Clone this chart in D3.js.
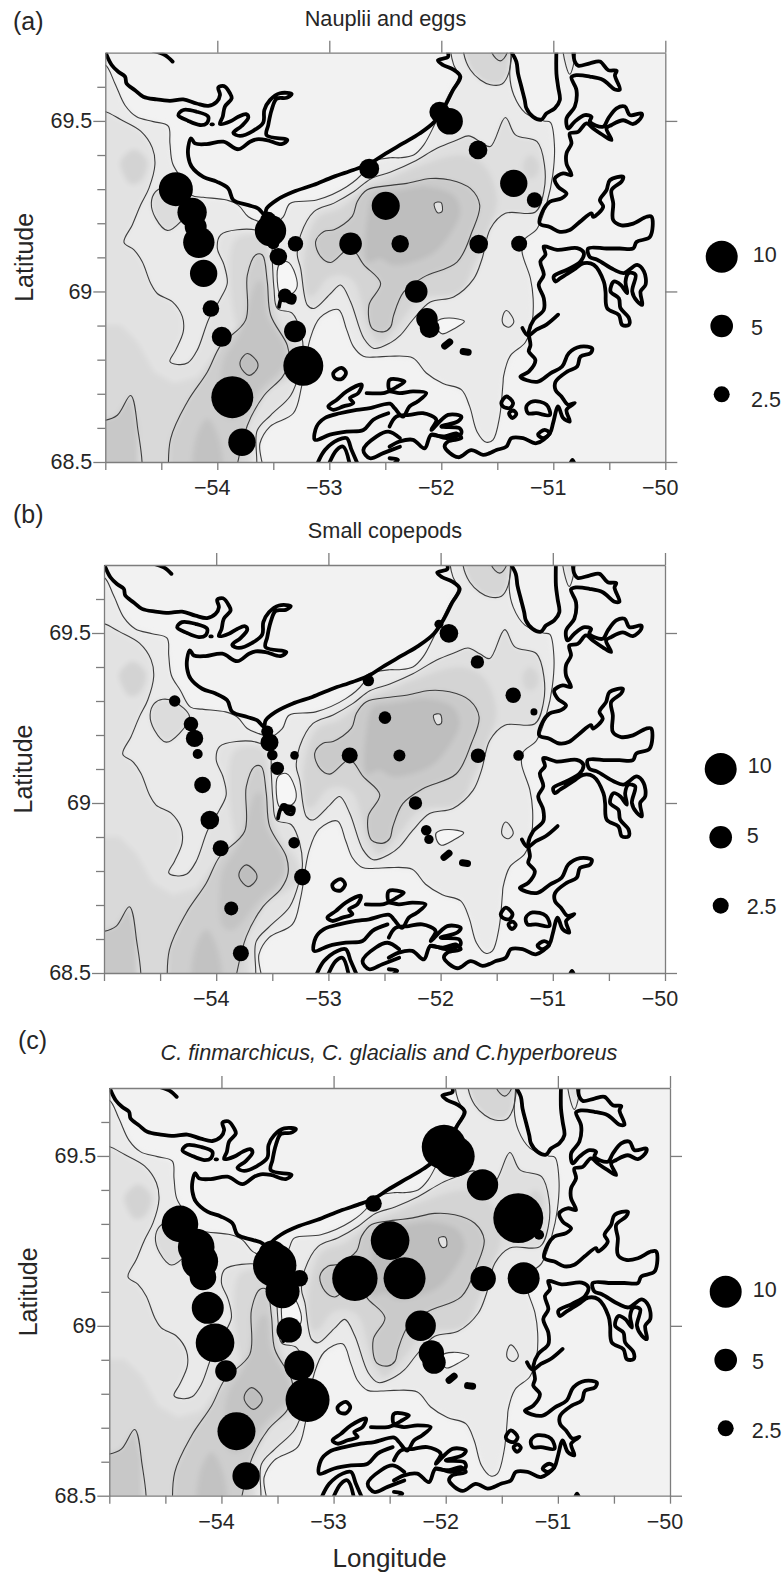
<!DOCTYPE html>
<html lang="en">
<head>
<meta charset="UTF-8">
<title>Disko Bay copepods</title>
<script src="https://d3js.org/d3.v7.min.js"></script>
<style>
    body { margin: 0; background: #fff; }
    text { font-family: "Liberation Sans", Arial, sans-serif; fill: #262626; }
    .axis path, .axis line { stroke: #7d7d7d; stroke-width: 1.3px; }
    .axis text { font-size: 21.5px; }
</style>
</head>
<body>
<svg id="chart" width="783" height="1575"></svg>
<script>
// stations, lon / lat
const stationLon = [-54.37,-54.225,-54.193,-54.165,-54.122,-54.057,-53.96,-53.866,-53.78,-53.232,-53.306,-53.396,-53.345,-53.455,-53.545,-53.525,-53.5,-53.302,-52.81,-52.496,-52.367,-52.644,-52.015,-51.926,-51.672,-51.353,-51.168,-51.666,-51.305,-52.224,-52.128,-52.104];
const stationLat = [69.3,69.232,69.19,69.144,69.053,68.95,68.867,68.69,68.558,68.782,68.883,68.988,68.98,69.102,69.21,69.178,69.141,69.14,69.14,69.251,69.14,69.36,69.526,69.499,69.415,69.317,69.268,69.139,69.14,69.0,68.92,68.893];
// abundance at each station
const naupliiEggs = [11.3,8.4,4.7,9.6,7.3,2.7,3.9,17.2,7.3,15.6,4.7,1.9,1.0,3.0,2.5,9.6,1.4,2.3,5.0,7.7,3.0,3.9,4.1,6.9,3.4,7.3,2.3,3.4,2.5,5.0,4.5,3.9];
const smallCopepods = [1.27,2.08,2.96,0.98,2.69,3.38,2.5,1.91,2.5,2.69,1.27,0.63,0.35,1.75,1.41,3.16,1.1,0.72,2.5,1.55,1.41,1.27,0.79,3.38,1.75,2.32,0.48,2.08,1.1,1.75,1.1,0.86];
const calanus = [13.1,13.1,13.1,6.9,10,14.6,4.5,14.1,7.3,18.9,8.8,6.3,1,11.3,7.7,18.4,2.5,2.7,20.1,14.6,17.2,2.7,19.4,16.7,9.6,24.4,1,6.3,10,9.1,6.3,5.3];

const legendValues = [10, 5, 2.5];
const lonTicks = [-55,-54.5,-54,-53.5,-53,-52.5,-52,-51.5,-51,-50.5,-50];
const lonTopTicks = [-54,-53,-52,-51,-50];
const latTicks = [68.5,68.6,68.7,68.8,68.9,69,69.1,69.2,69.3,69.4,69.5,69.6];
const latRightTicks = [68.5,69,69.5];
const lonLabels = [-54,-53,-52,-51,-50];

// coastline traces, lon / lat
const coastNorth = [[-54.994,69.698],[-54.943,69.664],[-54.884,69.644],[-54.824,69.63],[-54.81,69.61],[-54.735,69.59],[-54.661,69.571],[-54.542,69.563],[-54.423,69.559],[-54.304,69.563],[-54.185,69.551],[-54.08,69.544],[-54.006,69.556],[-53.976,69.576],[-53.991,69.598],[-53.94,69.602],[-53.887,69.581],[-53.872,69.566],[-53.932,69.542],[-53.952,69.512],[-53.976,69.491],[-53.887,69.498],[-53.813,69.512],[-53.744,69.52],[-53.723,69.51],[-53.783,69.485],[-53.857,69.465],[-53.798,69.456],[-53.679,69.471],[-53.59,69.495],[-53.58,69.532],[-53.53,69.561],[-53.44,69.581],[-53.336,69.579],[-53.381,69.568],[-53.47,69.565],[-53.515,69.532],[-53.545,69.488],[-53.56,69.458],[-53.375,69.444],[-53.426,69.432],[-53.56,69.444],[-53.649,69.446],[-53.708,69.439],[-53.813,69.417],[-53.946,69.439],[-54.095,69.432],[-54.199,69.434],[-54.235,69.449],[-54.259,69.424],[-54.259,69.395],[-54.229,69.366],[-54.125,69.336],[-54.006,69.322],[-53.902,69.302],[-53.857,69.268],[-53.723,69.253],[-53.634,69.243],[-53.574,69.224],[-53.56,69.243],[-53.47,69.268],[-53.321,69.292],[-53.143,69.312],[-52.964,69.336],[-52.786,69.356],[-52.637,69.375],[-52.518,69.4],[-52.343,69.434],[-52.194,69.463],[-52.06,69.498],[-51.97,69.542],[-51.896,69.59],[-51.83,69.63],[-51.896,69.651],[-51.985,69.664],[-52.03,69.678],[-51.94,69.688],[-51.95,69.71]];
const coastHook = [[-54.571,69.705],[-54.467,69.693],[-54.399,69.674]];
const coastIslandNW = [[-54.348,69.517],[-54.304,69.532],[-54.185,69.527],[-54.08,69.512],[-54.095,69.493],[-54.155,69.488],[-54.259,69.5]];
const coastDot = [[-54.052,69.49],[-54.04,69.49]];
const coastInlet = [[-51.389,69.71],[-51.33,69.674],[-51.315,69.639],[-51.285,69.6],[-51.255,69.561],[-51.24,69.537],[-51.18,69.512],[-51.106,69.504],[-51.061,69.522],[-50.987,69.537],[-50.942,69.561],[-50.957,69.6],[-50.972,69.639],[-50.972,69.71]];
const coastEast = [[-50.823,69.71],[-50.808,69.674],[-50.778,69.662],[-50.674,69.669],[-50.584,69.674],[-50.51,69.649],[-50.435,69.647],[-50.45,69.634],[-50.406,69.592],[-50.45,69.592],[-50.555,69.62],[-50.674,69.63],[-50.793,69.634],[-50.838,69.628],[-50.793,69.59],[-50.808,69.542],[-50.882,69.507],[-50.868,69.478],[-50.808,69.498],[-50.719,69.517],[-50.659,69.512],[-50.674,69.498],[-50.555,69.483],[-50.51,69.507],[-50.435,69.537],[-50.361,69.542],[-50.316,69.517],[-50.212,69.522],[-50.212,69.512],[-50.286,69.491],[-50.376,69.502],[-50.48,69.488],[-50.525,69.478],[-50.48,69.444],[-50.555,69.458],[-50.644,69.478],[-50.704,69.493],[-50.778,69.468],[-50.853,69.463],[-50.838,69.434],[-50.882,69.405],[-50.882,69.375],[-50.838,69.341],[-50.912,69.346],[-50.987,69.331],[-50.957,69.307],[-50.882,69.287],[-50.927,69.273],[-51.031,69.263],[-51.091,69.238],[-51.121,69.199],[-51.031,69.189],[-50.942,69.175],[-50.853,69.18],[-50.763,69.204],[-50.659,69.229],[-50.644,69.219],[-50.555,69.248],[-50.584,69.268],[-50.525,69.297],[-50.495,69.326],[-50.376,69.336],[-50.391,69.322],[-50.48,69.297],[-50.465,69.258],[-50.465,69.209],[-50.391,69.194],[-50.286,69.199],[-50.167,69.219],[-50.123,69.219],[-50.137,69.16],[-50.257,69.145],[-50.286,69.126],[-50.406,69.126],[-50.525,69.126],[-50.689,69.126],[-50.674,69.101],[-50.608,69.093],[-50.459,69.064],[-50.37,69.054],[-50.251,69.078],[-50.191,69.059],[-50.176,69.02],[-50.221,69.0],[-50.206,68.961],[-50.251,68.971],[-50.295,69.0],[-50.266,69.049],[-50.325,69.054],[-50.355,69.029],[-50.34,68.995],[-50.4,69.02],[-50.459,69.029],[-50.489,69.0],[-50.415,68.98],[-50.4,68.951],[-50.325,68.922],[-50.325,68.902],[-50.385,68.902],[-50.415,68.931],[-50.519,68.951],[-50.534,69.0],[-50.549,69.029],[-50.638,69.078],[-50.728,69.083],[-50.817,69.064],[-50.936,69.039],[-50.981,69.029],[-50.996,69.044],[-50.877,69.064],[-50.757,69.088],[-50.728,69.113],[-50.787,69.127],[-50.966,69.122],[-51.085,69.132],[-51.07,69.108],[-51.115,69.088],[-51.085,69.049],[-51.13,69.02],[-51.085,68.98],[-51.085,68.946],[-51.175,68.917],[-51.219,68.882],[-51.204,68.843],[-51.219,68.824],[-51.16,68.799],[-51.219,68.765],[-51.294,68.75],[-51.145,68.735],[-51.026,68.76],[-50.921,68.78],[-50.862,68.819],[-50.757,68.838],[-50.653,68.833],[-50.668,68.819],[-50.757,68.809],[-50.787,68.78],[-50.877,68.765],[-50.98,68.735],[-50.98,68.711],[-50.927,68.692],[-50.868,68.668],[-50.808,68.673],[-50.882,68.653],[-50.853,68.619],[-50.912,68.629],[-50.957,68.663],[-51.002,68.614],[-51.031,68.584],[-51.151,68.555],[-51.27,68.57],[-51.374,68.57],[-51.419,68.545],[-51.508,68.535],[-51.568,68.526],[-51.627,68.521],[-51.732,68.535],[-51.851,68.514],[-51.97,68.545],[-51.94,68.56],[-51.821,68.57],[-51.866,68.584],[-51.97,68.575],[-52.089,68.58]];
const coastSpike = [[-50.957,68.932],[-51.061,68.903],[-51.151,68.888],[-51.225,68.871],[-51.276,68.893]];
const coastSouthA = [[-52.462,68.604],[-52.402,68.633],[-52.283,68.638],[-52.164,68.643],[-52.045,68.624],[-52.089,68.594],[-51.94,68.638],[-51.821,68.633],[-51.851,68.619],[-52.0,68.604],[-51.836,68.599],[-51.821,68.584],[-51.955,68.57],[-52.089,68.58],[-52.149,68.54],[-52.253,68.565],[-52.373,68.56],[-52.462,68.545]];
const coastSouthB = [[-52.473,68.643],[-52.607,68.624],[-52.696,68.594],[-52.845,68.589],[-52.994,68.58],[-53.128,68.565],[-53.113,68.604],[-53.039,68.629],[-52.905,68.643],[-52.756,68.653],[-52.637,68.658],[-52.458,68.671],[-52.417,68.658],[-52.343,68.633],[-52.283,68.663],[-52.209,68.678],[-52.134,68.702],[-52.253,68.707],[-52.373,68.702],[-52.462,68.707],[-52.518,68.702],[-52.667,68.702]];
const coastLowA = [[-53.113,68.49],[-53.039,68.535],[-52.92,68.565],[-52.845,68.57],[-52.801,68.535],[-52.741,68.49]];
const coastLowB = [[-53.009,68.49],[-52.935,68.535],[-52.875,68.545],[-52.816,68.49]];
const coastLowC = [[-52.369,68.57],[-52.473,68.589],[-52.577,68.575],[-52.696,68.535],[-52.637,68.511],[-52.518,68.526],[-52.369,68.545]];
const coastLowD = [[-52.462,68.511],[-52.387,68.506],[-52.45,68.49]];
const coastTip = [[-50.853,68.49],[-50.829,68.506],[-50.805,68.49]];
const coastChannel = [[-53.449,68.955],[-53.42,68.985],[-53.375,68.991],[-53.31,68.985],[-53.321,68.968],[-53.369,68.97],[-53.39,68.98]];
const islandOne = [[-53.009,68.663],[-52.935,68.682],[-52.845,68.707],[-52.711,68.727],[-52.741,68.702],[-52.816,68.687],[-52.786,68.673],[-52.875,68.663],[-52.964,68.653]];
const islandTwo = [[-52.462,68.741],[-52.328,68.736],[-52.387,68.722],[-52.462,68.712]];
const islandThree = [[-52.964,68.761],[-52.89,68.776],[-52.851,68.761],[-52.89,68.743],[-52.95,68.746]];
const islandFour = [[-51.464,68.673],[-51.419,68.692],[-51.359,68.673],[-51.389,68.658],[-51.449,68.663]];
const islandFive = [[-51.395,68.643],[-51.359,68.651],[-51.33,68.641],[-51.365,68.629]];
const islandSix = [[-51.24,68.663],[-51.18,68.678],[-51.061,68.668],[-51.031,68.638],[-51.151,68.643],[-51.225,68.643]];
const islandSeven = [[-51.136,68.58],[-51.077,68.594],[-51.031,68.584],[-51.09,68.57]];
const islandEight = [[-51.97,68.84],[-51.925,68.852]];
const islandNine = [[-51.805,68.824],[-51.76,68.822]];

// contour lines and shading patches, lon / lat
const contourA = [[-55.1,69.664],[-55,69.664],[-54.914,69.61],[-54.824,69.546],[-54.72,69.512],[-54.571,69.498],[-54.438,69.485],[-54.423,69.434],[-54.399,69.375],[-54.319,69.331],[-54.229,69.282],[-54.125,69.276],[-53.917,69.268],[-53.813,69.253],[-53.723,69.219],[-53.619,69.204],[-53.52,69.195],[-53.411,69.219],[-53.351,69.258],[-53.113,69.268],[-52.845,69.307],[-52.69,69.352],[-52.66,69.376],[-52.456,69.392],[-52.367,69.392],[-52.247,69.4],[-52.158,69.429],[-52.054,69.493],[-51.934,69.576],[-51.845,69.63],[-51.89,69.665],[-51.914,69.699],[-51.914,69.76],[-51.368,69.76],[-51.368,69.699],[-51.389,69.635],[-51.353,69.576],[-51.249,69.523],[-51.085,69.5],[-51.026,69.496],[-50.99,69.429],[-51.005,69.341],[-51.055,69.263],[-51.145,69.184],[-51.264,69.15],[-51.279,69.116],[-51.204,69.038],[-51.18,68.979],[-51.189,68.91],[-51.249,68.851],[-51.383,68.812],[-51.443,68.753],[-51.449,68.731],[-51.479,68.633],[-51.538,68.565],[-51.598,68.558],[-51.681,68.589],[-51.747,68.663],[-51.821,68.712],[-51.985,68.73],[-52.134,68.761],[-52.253,68.805],[-52.462,68.81],[-52.577,68.808],[-52.696,68.81],[-52.786,68.839],[-52.845,68.888],[-52.92,68.947],[-53.083,68.923],[-53.173,68.859],[-53.247,68.722],[-53.321,68.643],[-53.53,68.604],[-53.619,68.555],[-53.619,68.44],[-55.1,68.44]];
const contourB = [[-55.1,69.528],[-55.006,69.528],[-54.863,69.504],[-54.684,69.47],[-54.58,69.421],[-54.557,69.372],[-54.61,69.303],[-54.684,69.254],[-54.759,69.195],[-54.833,69.144],[-54.744,69.122],[-54.67,69.087],[-54.595,69.024],[-54.536,68.994],[-54.402,68.97],[-54.312,68.926],[-54.304,68.882],[-54.372,68.828],[-54.423,68.795],[-54.357,68.786],[-54.262,68.791],[-54.179,68.828],[-54.074,68.921],[-53.97,68.98],[-53.911,69.024],[-53.94,69.078],[-54,69.127],[-53.97,69.166],[-53.821,69.181],[-53.613,69.176],[-53.524,69.151],[-53.509,69.087],[-53.494,69.009],[-53.464,68.95],[-53.33,68.936],[-53.256,68.882],[-53.232,68.813],[-53.256,68.774],[-53.345,68.695],[-53.524,68.637],[-53.643,68.593],[-53.702,68.44],[-55.1,68.44]];
const contourC = [[-54.432,68.44],[-54.417,68.568],[-54.268,68.676],[-54.089,68.764],[-53.97,68.842],[-53.747,68.916],[-53.732,69.048],[-53.658,69.107],[-53.598,69.107],[-53.554,69.029],[-53.524,68.931],[-53.375,68.842],[-53.36,68.793],[-53.42,68.749],[-53.583,68.695],[-53.732,68.607],[-53.851,68.44]];
const contourCorner = [[-55.1,68.622],[-55.006,68.622],[-54.893,68.637],[-54.774,68.695],[-54.714,68.607],[-54.708,68.44],[-55.1,68.44]];
const contourD = [[-53.286,69.107],[-53.256,69.166],[-53.137,69.234],[-52.958,69.259],[-52.78,69.293],[-52.631,69.33],[-52.452,69.35],[-52.247,69.38],[-52.039,69.42],[-51.86,69.444],[-51.756,69.456],[-51.651,69.439],[-51.562,69.425],[-51.428,69.51],[-51.338,69.459],[-51.145,69.439],[-51.079,69.371],[-51.085,69.292],[-51.16,69.233],[-51.428,69.229],[-51.562,69.184],[-51.636,69.096],[-51.711,69.037],[-51.89,68.984],[-52.098,68.969],[-52.247,68.92],[-52.367,68.871],[-52.452,68.85],[-52.601,68.833],[-52.691,68.862],[-52.81,68.97],[-52.899,69.019],[-52.988,68.994],[-53.137,68.95],[-53.196,68.96],[-53.256,69.068]];
const contourE = [[-52.452,69.311],[-52.661,69.298],[-52.75,69.264],[-52.795,69.22],[-52.958,69.181],[-53.048,69.176],[-53.122,69.146],[-53.077,69.102],[-52.988,69.085],[-52.81,69.127],[-52.691,69.078],[-52.542,69.024],[-52.646,68.96],[-52.616,68.891],[-52.512,68.882],[-52.452,68.896],[-52.426,68.93],[-52.337,68.998],[-52.158,69.042],[-51.86,69.086],[-51.726,69.175],[-51.657,69.253],[-51.741,69.302],[-51.92,69.327],[-52.098,69.331],[-52.307,69.317]];
const contourPocket = [[-54.476,69.305],[-54.551,69.293],[-54.589,69.259],[-54.551,69.215],[-54.446,69.179],[-54.327,69.205],[-54.238,69.254],[-54.372,69.298]];
const contourTop = [[-51.8,69.76],[-51.8,69.699],[-51.741,69.65],[-51.651,69.62],[-51.562,69.606],[-51.458,69.608],[-51.398,69.64],[-51.377,69.699],[-51.377,69.76]];
const contourTopInner = [[-51.547,69.76],[-51.547,69.699],[-51.473,69.676],[-51.413,69.699],[-51.413,69.76]];
const contourNE = [[-50.912,69.76],[-50.912,69.7],[-50.853,69.637],[-50.8,69.7],[-50.8,69.76]];
const loopSmallC = [[-53.792,68.798],[-53.732,68.818],[-53.643,68.793],[-53.643,68.774],[-53.717,68.754],[-53.792,68.779]];
const loopChannel = [[-53.449,69.078],[-53.375,69.087],[-53.301,69.048],[-53.292,69.009],[-53.36,68.989],[-53.435,68.989],[-53.464,69.029]];
const loopCentre = [[-52.063,69.258],[-52.003,69.261],[-51.994,69.234],[-52.033,69.231]];
const loopBank = [[-52.039,68.912],[-51.934,68.922],[-51.794,68.912],[-51.89,68.89],[-51.994,68.876],[-52.039,68.895]];
const loopOval = [[-51.419,68.944],[-51.383,68.934],[-51.353,68.91],[-51.398,68.895],[-51.449,68.905],[-51.449,68.93]];
const patchSouth = [[-55.1,68.901],[-54.863,68.901],[-54.714,68.852],[-54.565,68.764],[-54.387,68.73],[-54.179,68.749],[-54.03,68.813],[-53.792,68.882],[-53.7,68.44],[-55.1,68.44]];
const patchChannel = [[-53.851,68.931],[-53.851,69.146],[-53.732,69.166],[-53.583,69.156],[-53.524,69.029],[-53.435,68.901],[-53.286,68.833],[-53.256,68.774],[-53.6,68.72]];
const patchMid = [[-53.97,68.735],[-53.94,68.803],[-53.792,68.882],[-53.643,69.029],[-53.598,69.029],[-53.554,68.931],[-53.39,68.833],[-53.405,68.784],[-53.613,68.715],[-53.851,68.627],[-53.94,68.637]];
const patchBottom = [[-54.089,68.627],[-53.985,68.568],[-53.97,68.44],[-54.193,68.44],[-54.193,68.568]];
const patchWest = [[-54.863,69.381],[-54.744,69.416],[-54.625,69.381],[-54.684,69.323],[-54.774,69.315],[-54.848,69.352]];
const patchBay = [[-53.226,69.087],[-53.107,69.215],[-52.899,69.244],[-52.661,69.303],[-52.452,69.332],[-52.247,69.361],[-51.83,69.4],[-51.622,69.371],[-51.502,69.273],[-51.562,69.194],[-51.711,69.077],[-51.83,68.998],[-52.188,68.979],[-52.367,68.91],[-52.545,68.851],[-52.631,68.882],[-52.691,68.94],[-52.78,69.029],[-52.899,69.048],[-53.018,69.038],[-53.137,68.989],[-53.196,68.989]];
const patchCore = [[-52.661,69.215],[-52.601,69.283],[-52.452,69.293],[-52.367,69.297],[-52.128,69.307],[-51.89,69.282],[-51.83,69.233],[-51.949,69.155],[-52.098,69.106],[-52.426,69.077],[-52.545,69.096],[-52.661,69.087]];
const patchEast = [[-51.264,69.38],[-51.204,69.4],[-51.13,69.376],[-51.145,69.341],[-51.219,69.331],[-51.264,69.351]];

const openCoast = [coastNorth, coastHook, coastDot, coastInlet, coastEast, coastSpike, coastSouthA, coastSouthB, coastLowA, coastLowB, coastLowC, coastLowD, coastTip, coastChannel];
const closedCoast = [coastIslandNW, islandOne, islandTwo, islandThree, islandFour, islandFive, islandSix, islandSeven];
const blobCoast = [islandEight, islandNine];

const panels = [
    {tag:"(a)", tagX:13, tagY:30, title:"Nauplii and eggs", titleX:385.5, titleY:26, italic:false, values:naupliiEggs,
     left:105.3, right:665.3, top:52.7, bottom:462, legendX:721.7, legendY:[256.7,326,394.3], labelX:[752.7,751,751], labelY:[262,335,407]},
    {tag:"(b)", tagX:13, tagY:523, title:"Small copepods", titleX:385, titleY:537.5, italic:false, values:smallCopepods,
     left:104, right:665, top:565, bottom:973, legendX:720.7, legendY:[769,837.3,905.7], labelX:[747.7,746.7,746.7], labelY:[773.3,843.3,914]},
    {tag:"(c)", tagX:18, tagY:1049, title:"C. finmarchicus, C. glacialis and C.hyperboreus", titleX:389, titleY:1060, italic:true, values:calanus,
     left:109.3, right:670, top:1088, bottom:1495.7, legendX:725.7, legendY:[1291.7,1360,1428.3], labelX:[752.7,752,751.7], labelY:[1297.3,1369,1438]}
];

const svg = d3.select("#chart");
const rScale = d3.scaleSqrt().domain([0, 10]).range([0, 16]);

svg.append("defs").append("filter").attr("id", "soft")
    .attr("x", "-10%").attr("y", "-10%").attr("width", "120%").attr("height", "120%")
    .append("feGaussianBlur").attr("stdDeviation", 2.6);

panels.forEach(function (p, i) {
    let x = d3.scaleLinear().domain([-55, -50]).range([p.left, p.right]);
    let y = d3.scaleLinear().domain([68.5, 69.7]).range([p.bottom, p.top]);
    let g = svg.append("g");

    let clipId = "clip" + i;
    svg.select("defs").append("clipPath").attr("id", clipId)
        .append("rect").attr("x", p.left).attr("y", p.top)
        .attr("width", p.right - p.left).attr("height", p.bottom - p.top);

    let lineOpen = d3.line().x(d => x(d[0])).y(d => y(d[1])).curve(d3.curveCatmullRom.alpha(0.5));
    let lineClosed = d3.line().x(d => x(d[0])).y(d => y(d[1])).curve(d3.curveCatmullRomClosed.alpha(0.5));
    let lineSharp = d3.line().x(d => x(d[0])).y(d => y(d[1])).curve(d3.curveLinearClosed);

    let map = g.append("g").attr("clip-path", "url(#" + clipId + ")");
    map.append("rect").attr("x", p.left).attr("y", p.top)
        .attr("width", p.right - p.left).attr("height", p.bottom - p.top).attr("fill", "#f2f2f2");

    // soft shading first, then the line work on top
    let fills = [
        [contourA, "#eaeaea", lineSharp], [contourB, "#e2e2e2", lineSharp], [patchSouth, "#d9d9d9", lineSharp],
        [patchWest, "#d3d3d3", lineClosed], [contourPocket, "#dcdcdc", lineClosed], [patchChannel, "#d8d8d8", lineClosed],
        [contourC, "#cecece", lineSharp], [patchMid, "#c4c4c4", lineClosed], [patchBottom, "#c2c2c2", lineClosed],
        [contourCorner, "#c8c8c8", lineSharp], [loopSmallC, "#bebebe", lineClosed],
        [contourD, "#dfdfdf", lineClosed], [patchBay, "#d4d4d4", lineClosed], [contourE, "#cacaca", lineClosed],
        [patchCore, "#bebebe", lineClosed], [patchEast, "#d4d4d4", lineClosed],
        [contourTop, "#d6d6d6", lineSharp], [contourTopInner, "#c8c8c8", lineSharp], [contourNE, "#e2e2e2", lineSharp],
        [loopChannel, "#f6f6f6", lineClosed]
    ];
    map.append("g").attr("filter", "url(#soft)").selectAll("path").data(fills).enter().append("path")
        .attr("d", d => d[2](d[0])).attr("fill", d => d[1]);
    let loopFills = [[loopChannel, "#f6f6f6"], [loopBank, "#f5f5f5"], [loopOval, "#e9e9e9"], [loopCentre, "#e2e2e2"]];
    map.append("g").selectAll("path").data(loopFills).enter().append("path")
        .attr("d", d => lineClosed(d[0])).attr("fill", d => d[1]).attr("stroke", "none");

    let contourOpen = [contourA, contourB, contourC, contourCorner, contourTop, contourTopInner, contourNE];
    let contourShut = [contourD, contourE, contourPocket, loopSmallC, loopChannel, loopCentre, loopBank, loopOval];
    map.append("g").selectAll("path").data(contourOpen).enter().append("path")
        .attr("d", lineOpen).attr("fill", "none").attr("stroke", "#3d3d3d").attr("stroke-width", 1.1);
    map.append("g").selectAll("path").data(contourShut).enter().append("path")
        .attr("d", lineClosed).attr("fill", "none").attr("stroke", "#3d3d3d").attr("stroke-width", 1.1);

    map.append("g").selectAll("path").data(openCoast).enter().append("path")
        .attr("d", lineOpen).attr("fill", "none").attr("stroke", "#000").attr("stroke-width", 3.8)
        .attr("stroke-linejoin", "round").attr("stroke-linecap", "round");
    map.append("g").selectAll("path").data(closedCoast).enter().append("path")
        .attr("d", lineClosed).attr("fill", "none").attr("stroke", "#000").attr("stroke-width", 3.8)
        .attr("stroke-linejoin", "round");
    map.append("g").selectAll("path").data(blobCoast).enter().append("path")
        .attr("d", lineOpen).attr("fill", "none").attr("stroke", "#000").attr("stroke-width", 7)
        .attr("stroke-linecap", "round");

    // axes
    let bottom = g.append("g").attr("class", "axis").attr("transform", "translate(0," + p.bottom + ")")
        .call(d3.axisBottom(x).tickValues(lonTicks).tickSize(8).tickSizeOuter(0)
            .tickFormat(d => lonLabels.includes(d) ? "\u2212" + Math.abs(d) : ""));
    bottom.selectAll("text").attr("x", -5.5).attr("y", 33).attr("dy", 0);
    g.append("g").attr("class", "axis").attr("transform", "translate(0," + p.top + ")")
        .call(d3.axisTop(x).tickValues(lonTopTicks).tickSize(12).tickSizeOuter(0).tickFormat(""));
    let left = g.append("g").attr("class", "axis").attr("transform", "translate(" + p.left + ",0)")
        .call(d3.axisLeft(y).tickValues(latTicks).tickSize(8).tickSizeOuter(0)
            .tickFormat(d => latRightTicks.includes(d) ? d : ""));
    left.selectAll("text").attr("x", -13);
    left.selectAll(".tick line").attr("x2", d => latRightTicks.includes(d) ? -12 : -8);
    g.append("g").attr("class", "axis").attr("transform", "translate(" + p.right + ",0)")
        .call(d3.axisRight(y).tickValues(latRightTicks).tickSize(12).tickSizeOuter(0).tickFormat(""));
    g.selectAll(".axis").attr("font-family", null).attr("font-size", null);

    // stations
    g.append("g").selectAll("circle").data(p.values).enter().append("circle")
        .attr("cx", (d, k) => x(stationLon[k]))
        .attr("cy", (d, k) => y(stationLat[k]))
        .attr("r", d => rScale(d)).attr("fill", "#000");

    // size legend
    g.append("g").selectAll("circle").data(legendValues).enter().append("circle")
        .attr("cx", p.legendX).attr("cy", (d, k) => p.legendY[k]).attr("r", d => rScale(d)).attr("fill", "#000");
    g.append("g").selectAll("text").data(legendValues).enter().append("text")
        .attr("x", (d, k) => p.labelX[k]).attr("y", (d, k) => p.labelY[k])
        .attr("font-size", 21.5).text(d => d);

    g.append("text").attr("x", p.tagX).attr("y", p.tagY).attr("font-size", 25).text(p.tag);
    g.append("text").attr("x", p.titleX).attr("y", p.titleY).attr("font-size", 21.7).attr("text-anchor", "middle")
        .attr("font-style", p.italic ? "italic" : "normal").text(p.title);

    let midY = (p.top + p.bottom) / 2;
    g.append("text").attr("transform", "translate(" + (p.left - 72.5) + "," + midY + ") rotate(-90)")
        .attr("font-size", 25).attr("text-anchor", "middle").text("Latitude");
    if (i === 2) {
        g.append("text").attr("x", (p.left + p.right) / 2).attr("y", 1567)
            .attr("font-size", 26).attr("text-anchor", "middle").text("Longitude");
    }
});
</script>
</body>
</html>
